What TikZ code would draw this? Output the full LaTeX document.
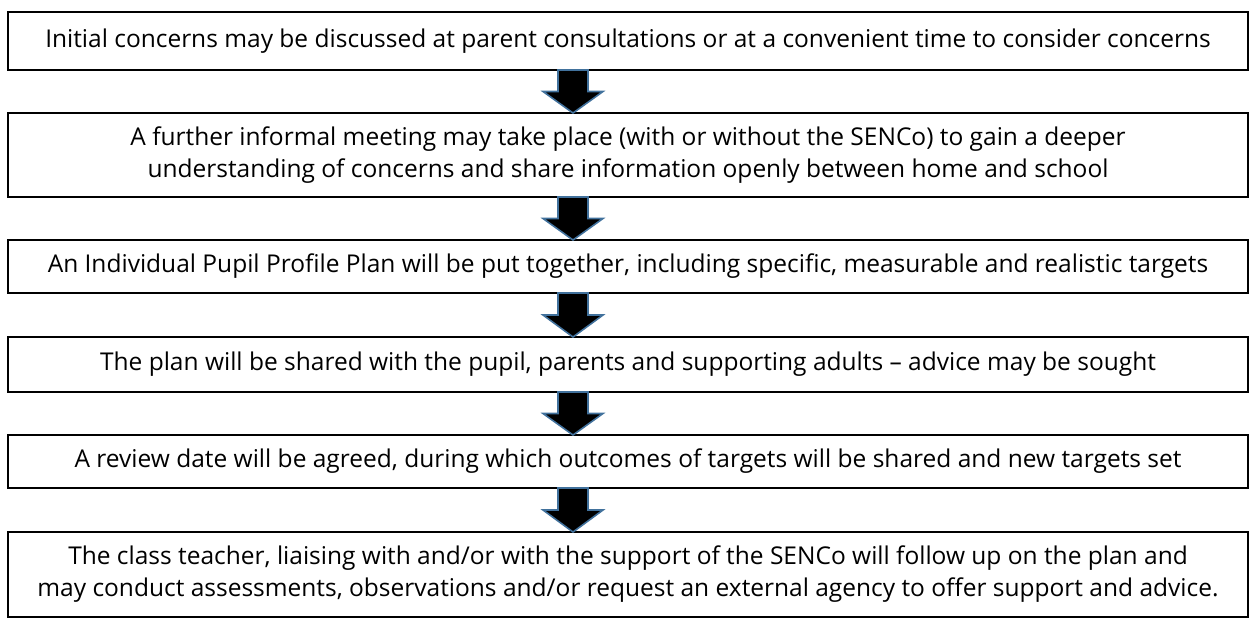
\documentclass[tikz,border=0pt]{standalone}
\usepackage{fontspec}
\setmainfont{Open Sans}
\usetikzlibrary{calc}
\definecolor{arrowline}{HTML}{41719C}
\begin{document}
\begin{tikzpicture}[x=1pt,y=-1pt,
  stepbox/.style={draw=black, line width=2pt, rectangle, minimum width=1240pt,
    inner sep=0pt, outer sep=0pt, align=center,
    font=\fontsize{24.5pt}{32pt}\selectfont},
  blockarrow/.style={fill=black, draw=arrowline, line width=1.6pt, line join=miter}
]
\useasboundingbox (0,0) rectangle (1251,619);
\node[stepbox, minimum height=58pt] (b1) at (628,41) {Initial concerns may be discussed at parent consultations or at a convenient time to consider concerns};
\node[stepbox, minimum height=84pt] (b2) at (628,155) {A further informal meeting may take place (with or without the SENCo) to gain a deeper\\understanding of concerns and share information openly between home and school};
\node[stepbox, minimum height=53pt] (b3) at (628,266.5) {An Individual Pupil Profile Plan will be put together, including specific, measurable and realistic targets};
\node[stepbox, minimum height=55pt] (b4) at (628,364.5) {The plan will be shared with the pupil, parents and supporting adults -- advice may be sought};
\node[stepbox, minimum height=53pt] (b5) at (628,461.5) {A review date will be agreed, during which outcomes of targets will be shared and new targets set};
\node[stepbox, minimum height=85pt] (b6) at (628,574.5) {The class teacher, liaising with and/or with the support of the SENCo will follow up on the plan and\\may conduct assessments, observations and/or request an external agency to offer support and advice.};
\foreach \a/\b in {b1/b2,b2/b3,b3/b4,b4/b5,b5/b6}{
  \draw[blockarrow] let \p1=(\a.south), \p2=(\b.north) in
    (558,\y1) -- (588,\y1) -- (588,{0.5*(\y1+\y2)}) -- (603,{0.5*(\y1+\y2)})
    -- (573,\y2) -- (543,{0.5*(\y1+\y2)}) -- (558,{0.5*(\y1+\y2)}) -- cycle;
}
\end{tikzpicture}
\end{document}
